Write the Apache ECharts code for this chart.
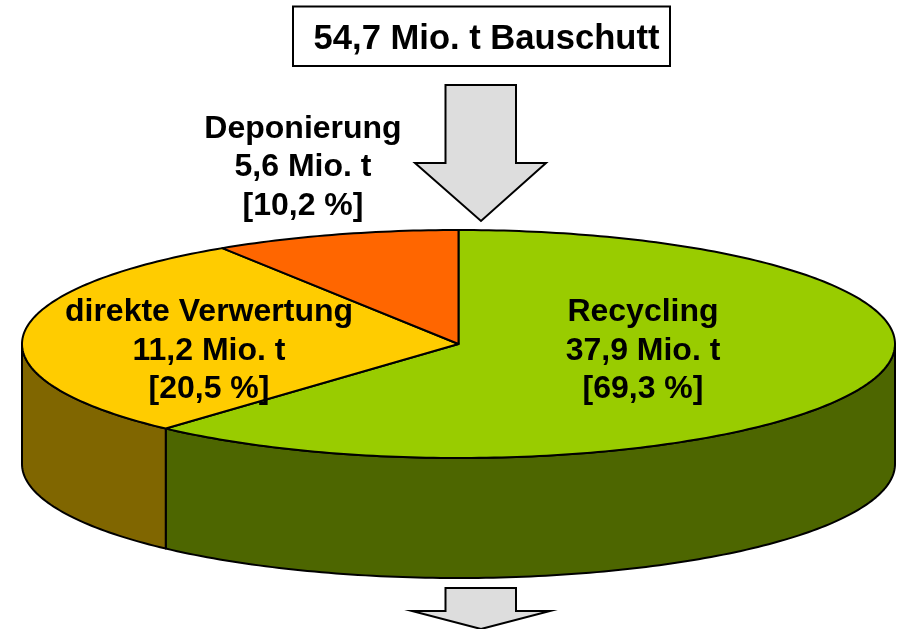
<!DOCTYPE html>
<html><head><meta charset="utf-8">
<style>html,body{margin:0;padding:0;background:#fff}#c{width:902px;height:629px}</style>
<script src="https://cdn.jsdelivr.net/npm/echarts@6/dist/echarts.min.js"></script>
</head><body><div id="c"></div>
<script>
// Values as printed in the labels
const categories = ['Recycling', 'direkte Verwertung', 'Deponierung'];
const tonnesLabel = ['37,9 Mio. t', '11,2 Mio. t', '5,6 Mio. t'];
const percentLabel = ['[69,3 %]', '[20,5 %]', '[10,2 %]'];
// Slice shares as actually drawn in the picture (read from slice boundaries, %)
const drawnShare = [61.7, 29.2, 9.1];
const topColors = ['#99CC00', '#FFCC00', '#FF6600'];
const sideColors = ['#4D6600', '#806600', '#803300'];
const titleText = '54,7 Mio. t Bauschutt';

// Layout (not data)
const P = {cx: 458.5, cy: 344, rx: 436.5, ry: 114, depth: 120};
const labelPos = [[643, 351], [209, 351], [303, 167.5]];
const FONT = '"Liberation Sans", Arial, sans-serif';
const LW = 2;

function pt(deg, dy) {
  const a = deg * Math.PI / 180;
  return [P.cx + P.rx * Math.sin(a), P.cy - P.ry * Math.cos(a) + (dy || 0)];
}
function arc(a0, a1, dy) {
  const out = [], n = Math.max(2, Math.ceil(Math.abs(a1 - a0)));
  for (let i = 0; i <= n; i++) out.push(pt(a0 + (a1 - a0) * i / n, dy));
  return out;
}
const starts = drawnShare.map((_, i) => drawnShare.slice(0, i).reduce((s, v) => s + v, 0));

function renderItem(params, api) {
  const i = params.dataIndex;
  const a0 = api.value(1) * 3.6, a1 = a0 + api.value(0) * 3.6;
  const children = [];
  const f0 = Math.max(a0, 90), f1 = Math.min(a1, 270);
  if (f1 > f0) {
    children.push({type: 'polygon',
      shape: {points: arc(f0, f1, 0).concat(arc(f1, f0, P.depth))},
      style: {fill: sideColors[i], stroke: '#000', lineWidth: LW, lineJoin: 'round'}});
  }
  children.push({type: 'polygon',
    shape: {points: [[P.cx, P.cy]].concat(arc(a0, a1, 0))},
    style: {fill: topColors[i], stroke: '#000', lineWidth: LW, lineJoin: 'round'}});
  return {type: 'group', children};
}
function labelItem(params, api) {
  const i = params.dataIndex;
  return {type: 'text', x: labelPos[i][0], y: labelPos[i][1],
    style: {text: [categories[i], tonnesLabel[i], percentLabel[i]].join('\n'),
      font: 'bold 32px ' + FONT, lineHeight: 38.5, fill: '#000',
      align: 'center', verticalAlign: 'middle'}};
}
const arrowStyle = {fill: '#DDDDDD', stroke: '#000', lineWidth: LW, lineJoin: 'miter'};
const chart = echarts.init(document.getElementById('c'), null, {renderer: 'canvas'});
chart.setOption({
  animation: false,
  backgroundColor: '#fff',
  series: [
    {type: 'custom', coordinateSystem: 'none', silent: true, z: 2,
     dimensions: ['share', 'start'],
     data: drawnShare.map((v, i) => [v, starts[i]]),
     renderItem},
    {type: 'custom', coordinateSystem: 'none', silent: true, z: 3,
     data: categories.map((c, i) => [i]),
     renderItem: labelItem}
  ],
  graphic: [
    {type: 'rect', z: 1, shape: {x: 293, y: 6.5, width: 377, height: 59.5},
     style: {fill: '#fff', stroke: '#000', lineWidth: LW}},
    {type: 'text', z: 4, x: 486.5, y: 39,
     style: {text: titleText, font: 'bold 34.6px ' + FONT, fill: '#000', align: 'center', verticalAlign: 'middle'}},
    {type: 'polygon', z: 1, shape: {points: [[445.5, 85], [516, 85], [516, 163], [546, 163], [481, 221], [415, 163], [445.5, 163]]},
     style: arrowStyle},
    {type: 'polygon', z: 1, shape: {points: [[445.5, 588], [516, 588], [516, 611], [550, 611], [481, 629], [412, 611], [445.5, 611]]},
     style: arrowStyle}
  ]
});
</script></body></html>
